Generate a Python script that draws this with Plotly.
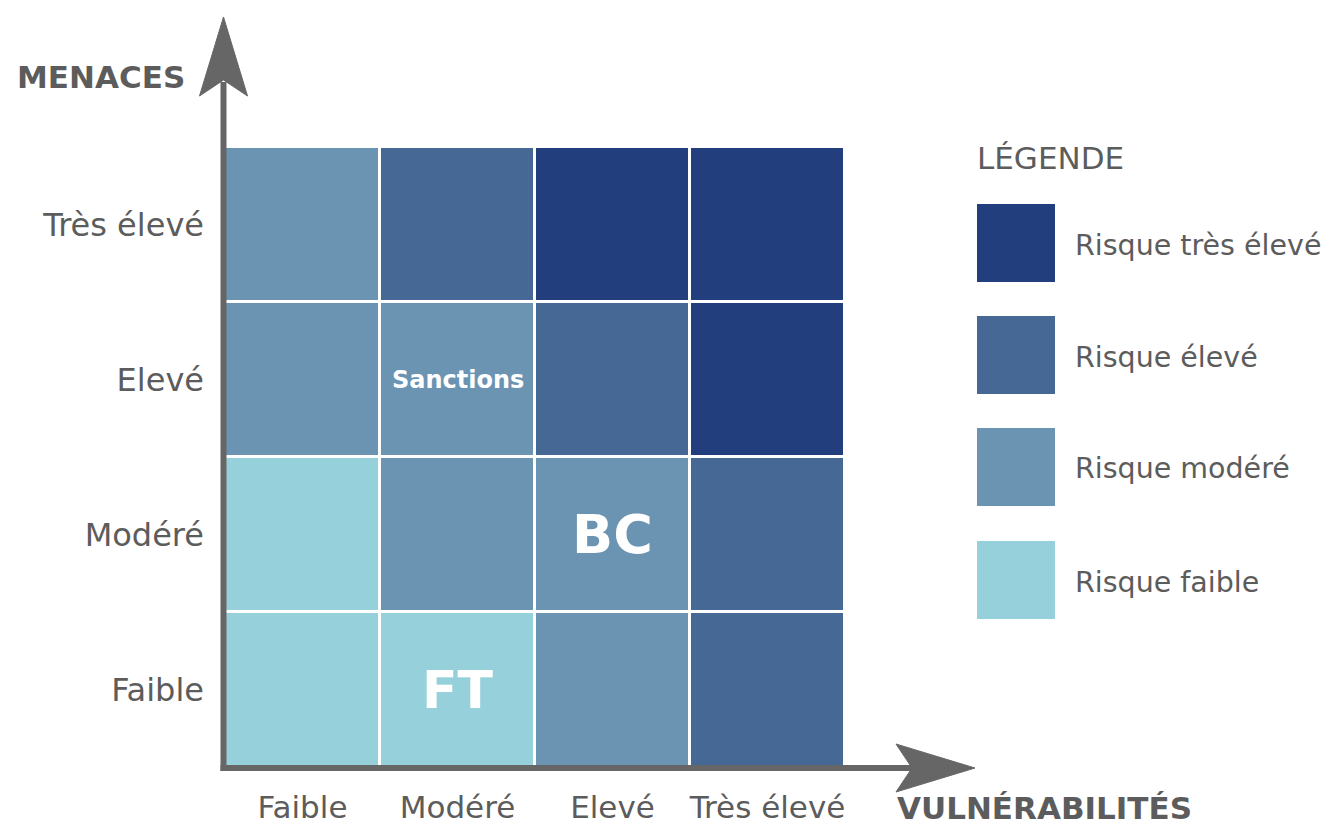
import plotly.graph_objects as go

# ---- data ----
levels = ["Faible", "Modéré", "Elevé", "Très élevé"]          # both axes
risk_names = ["Risque faible", "Risque modéré", "Risque élevé", "Risque très élevé"]
risk_colors = ["#96D1DB", "#6B94B3", "#456895", "#233E7D"]
# risk level per cell: rows = menaces (Faible -> Très élevé), cols = vulnérabilités
risk_matrix = [
    [0, 0, 1, 2],
    [0, 1, 1, 2],
    [1, 1, 2, 3],
    [1, 2, 3, 3],
]
cell_label_text = ["Sanctions", "BC", "FT"]
cell_label_vuln = ["Modéré", "Elevé", "Modéré"]
cell_label_menace = ["Elevé", "Modéré", "Faible"]

# ---- layout constants ----
W, H = 1338, 828
OFF = 8  # page body margin
L, R, T, B = 225, 845, 147, 767  # target pixel box of the grid
FONT = "DejaVu Sans"
GREY = "#5c5c5c"
AXC = "#666666"
label_sizes = {"Sanctions": 24, "BC": 54, "FT": 52}


def px(x):
    return (x - L) / (R - L)


def py(y):
    return (B - y) / (B - T)


n = len(risk_colors)
cs = []
for i, c in enumerate(risk_colors):
    cs.append([i / n, c])
    cs.append([(i + 1) / n, c])

fig = go.Figure(
    go.Heatmap(
        z=risk_matrix,
        x=levels,
        y=levels,
        colorscale=cs,
        zmin=-0.5,
        zmax=n - 0.5,
        showscale=False,
        xgap=3,
        ygap=3,
        hoverinfo="skip",
    )
)

for t, xv, yv in zip(cell_label_text, cell_label_vuln, cell_label_menace):
    fig.add_annotation(
        x=xv, y=yv, xref="x", yref="y", text=f"<b>{t}</b>", showarrow=False,
        font=dict(family=FONT, size=label_sizes[t], color="white"),
    )

shapes = []
# vertical axis
shapes.append(dict(type="line", xref="paper", yref="paper", x0=px(223.5), x1=px(223.5),
                   y0=py(771), y1=py(82), line=dict(color=AXC, width=6), layer="above"))
vpath = "M {} {} L {} {} L {} {} L {} {} Z".format(
    px(223.5), py(17), px(247.5), py(96), px(223.5), py(80), px(199.5), py(96))
shapes.append(dict(type="path", xref="paper", yref="paper", path=vpath,
                   fillcolor=AXC, line=dict(color=AXC, width=1), layer="above"))
# horizontal axis
shapes.append(dict(type="line", xref="paper", yref="paper", x0=px(220.5), x1=px(915),
                   y0=py(768), y1=py(768), line=dict(color=AXC, width=6), layer="above"))
hpath = "M {} {} L {} {} L {} {} L {} {} Z".format(
    px(975), py(768), px(896), py(744), px(912), py(768), px(896), py(792))
shapes.append(dict(type="path", xref="paper", yref="paper", path=hpath,
                   fillcolor=AXC, line=dict(color=AXC, width=1), layer="above"))

# legend swatches
sw_tops = [541, 428, 316, 204]
for name, col, top in zip(risk_names, risk_colors, sw_tops):
    shapes.append(dict(type="rect", xref="paper", yref="paper",
                       x0=px(977), x1=px(1055), y0=py(top + 78), y1=py(top),
                       fillcolor=col, line=dict(width=0)))
    fig.add_annotation(x=px(1073), y=py(top + 39 + 2), xref="paper", yref="paper",
                       text=name, showarrow=False, xanchor="left", yanchor="middle",
                       font=dict(family=FONT, size=28.5, color=GREY))

fig.add_annotation(x=px(975), y=py(158), xref="paper", yref="paper", text="LÉGENDE",
                   showarrow=False, xanchor="left", yanchor="middle",
                   font=dict(family=FONT, size=31, color=GREY))
fig.add_annotation(x=px(187), y=py(77), xref="paper", yref="paper", text="<b>MENACES</b>",
                   showarrow=False, xanchor="right", yanchor="middle",
                   font=dict(family=FONT, size=31, color=GREY))
fig.add_annotation(x=px(895), y=py(808), xref="paper", yref="paper", text="<b>VULNÉRABILITÉS</b>",
                   showarrow=False, xanchor="left", yanchor="middle",
                   font=dict(family=FONT, size=31, color=GREY))

fig.update_layout(
    width=W, height=H,
    margin=dict(l=L - OFF, r=W - (R - OFF), t=T - OFF, b=H - (B - OFF), pad=0),
    paper_bgcolor="white", plot_bgcolor="white",
    shapes=shapes,
    showlegend=False,
    font=dict(family=FONT, color=GREY),
)
fig.update_xaxes(type="category", range=[-0.5, 3.5], showgrid=False, zeroline=False,
                 showline=False, ticks="", ticklabelstandoff=19, automargin=False,
                 tickfont=dict(family=FONT, size=31, color=GREY), fixedrange=True)
fig.update_yaxes(type="category", range=[-0.5, 3.5], showgrid=False, zeroline=False,
                 showline=False, ticks="", ticklabelstandoff=20, automargin=False,
                 tickfont=dict(family=FONT, size=32, color=GREY), fixedrange=True)

fig.write_html("out.html")
